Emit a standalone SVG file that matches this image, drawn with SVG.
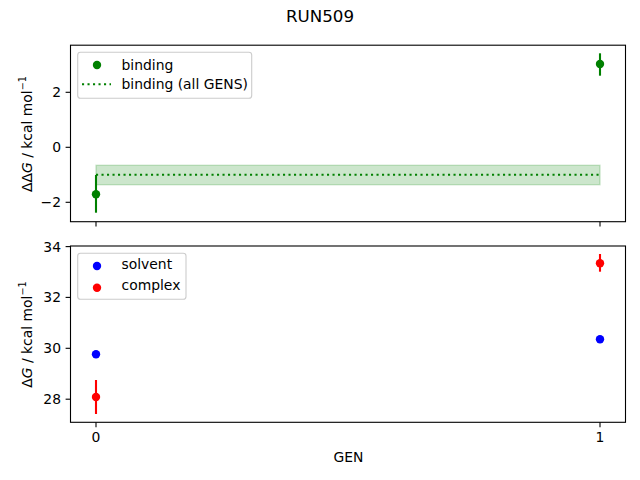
<svg xmlns="http://www.w3.org/2000/svg" width="640" height="480" viewBox="0 0 640 480">
<style>
text{font-family:"DejaVu Sans",sans-serif;font-size:13.9px;fill:#000}
.spine{fill:none;stroke:#000;stroke-width:1.1}
.tick{stroke:#000;stroke-width:1.1}
.yt{text-anchor:end}
.xt{text-anchor:middle}
.leg{fill:#fff;fill-opacity:0.8;stroke:#ccc;stroke-width:1.1}
.eg{stroke:#008000;stroke-width:2.1}
.er{stroke:#ff0000;stroke-width:2.1}
.eb{stroke:#0000ff;stroke-width:2.1}
</style>
<rect width="640" height="480" fill="#fff"/>
<text x="320" y="22.3" text-anchor="middle" style="font-size:16.7px">RUN509</text>
<g id="top-axes">
<rect x="96" y="165.3" width="504" height="19.4" fill="#008000" fill-opacity="0.2" stroke="#008000" stroke-opacity="0.2" stroke-width="1.4"/>
<line x1="96" y1="174.7" x2="600" y2="174.7" stroke="#008000" stroke-width="2.1" stroke-dasharray="2.1,3.4"/>
<line class="eg" x1="96" y1="175" x2="96" y2="212.7"/>
<circle cx="96" cy="194.3" r="4.2" fill="#008000"/>
<line class="eg" x1="600" y1="53.3" x2="600" y2="75.7"/>
<circle cx="600" cy="64" r="4.2" fill="#008000"/>
<rect class="spine" x="70.5" y="45.2" width="555" height="176.5"/>
<line class="tick" x1="96" y1="221.7" x2="96" y2="226.6"/>
<line class="tick" x1="600" y1="221.7" x2="600" y2="226.6"/>
<line class="tick" x1="65.6" y1="92.3" x2="70.5" y2="92.3"/>
<line class="tick" x1="65.6" y1="147.3" x2="70.5" y2="147.3"/>
<line class="tick" x1="65.6" y1="202.3" x2="70.5" y2="202.3"/>
<text class="yt" x="61" y="97.3">2</text>
<text class="yt" x="61" y="152.3">0</text>
<text class="yt" x="61" y="207.3">−2</text>
<text transform="translate(31.5,134) rotate(-90)" text-anchor="middle">ΔΔ<tspan font-style="italic">G</tspan> / kcal mol<tspan dy="-5.5" style="font-size:9.7px">−1</tspan></text>
</g>
<g id="top-legend">
<rect class="leg" x="77.7" y="52.3" width="174" height="46" rx="2.8"/>
<circle cx="97" cy="65" r="4.2" fill="#008000"/>
<text x="121.5" y="69.5">binding</text>
<line x1="82" y1="84.3" x2="111" y2="84.3" stroke="#008000" stroke-width="2.1" stroke-dasharray="2.1,3.4"/>
<text x="121.5" y="89">binding (all GENS)</text>
</g>
<g id="bottom-axes">
<line class="er" x1="96" y1="380" x2="96" y2="414"/>
<circle cx="96" cy="397" r="4.2" fill="#ff0000"/>
<line class="er" x1="600" y1="254" x2="600" y2="271.7"/>
<circle cx="600" cy="263.3" r="4.2" fill="#ff0000"/>
<line class="eb" x1="96" y1="352.8" x2="96" y2="355.8"/>
<circle cx="96" cy="354.3" r="4.2" fill="#0000ff"/>
<line class="eb" x1="600" y1="337.6" x2="600" y2="341"/>
<circle cx="600" cy="339.3" r="4.2" fill="#0000ff"/>
<rect class="spine" x="70.5" y="246" width="555" height="176.3"/>
<line class="tick" x1="96" y1="422.3" x2="96" y2="427.2"/>
<line class="tick" x1="600" y1="422.3" x2="600" y2="427.2"/>
<text class="xt" x="96" y="442">0</text>
<text class="xt" x="600" y="442">1</text>
<line class="tick" x1="65.6" y1="246.6" x2="70.5" y2="246.6"/>
<line class="tick" x1="65.6" y1="297.4" x2="70.5" y2="297.4"/>
<line class="tick" x1="65.6" y1="348.3" x2="70.5" y2="348.3"/>
<line class="tick" x1="65.6" y1="399.2" x2="70.5" y2="399.2"/>
<text class="yt" x="61" y="251.6">34</text>
<text class="yt" x="61" y="302.4">32</text>
<text class="yt" x="61" y="353.3">30</text>
<text class="yt" x="61" y="404.2">28</text>
<text transform="translate(31.5,334.5) rotate(-90)" text-anchor="middle">Δ<tspan font-style="italic">G</tspan> / kcal mol<tspan dy="-5.5" style="font-size:9.7px">−1</tspan></text>
<text x="348.5" y="462.3" text-anchor="middle">GEN</text>
</g>
<g id="bottom-legend">
<rect class="leg" x="77.7" y="253.3" width="108.3" height="46" rx="2.8"/>
<circle cx="97" cy="266" r="4.2" fill="#0000ff"/>
<text x="121.5" y="269.3">solvent</text>
<circle cx="97" cy="287.7" r="4.2" fill="#ff0000"/>
<text x="121.5" y="290">complex</text>
</g>
</svg>
